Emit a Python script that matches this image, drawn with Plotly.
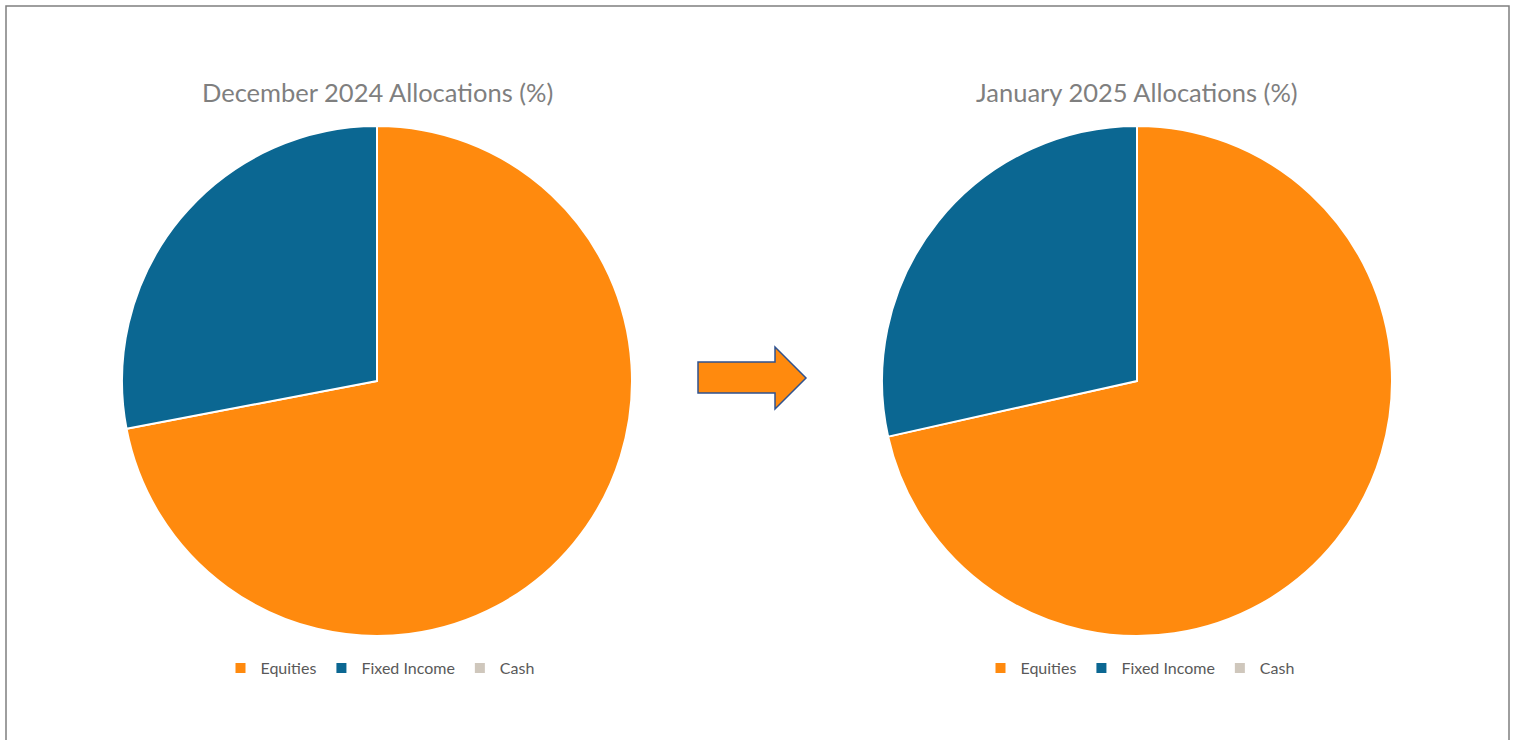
import plotly.graph_objects as go

labels = ["Equities", "Fixed Income", "Cash"]
dec_2024 = [72.0, 28.0, 0.0]
jan_2025 = [71.5, 28.5, 0.0]
colors = ["#FF8A0E", "#0B6792", "#CFC7BC"]
titles = ["December 2024 Allocations (%)", "January 2025 Allocations (%)"]

W, H = 1513, 740

def px(x, y):
    return x / W, 1 - y / H

fig = go.Figure()

# second pie uses distinct label keys (trailing space) so it gets its own legend entries
pies = [(dec_2024, 377, "legend", labels),
        (jan_2025, 1137, "legend2", [l + "\u200b" for l in labels])]
for vals, cx, lg, labs in pies:
    r = 255
    cy = 381
    x0, y1 = px(cx - r, cy - r)
    x1, y0 = px(cx + r, cy + r)
    fig.add_trace(go.Pie(
        labels=labs, values=vals, sort=False, direction="clockwise", rotation=0,
        marker=dict(colors=colors, line=dict(color="white", width=2)),
        textinfo="none", hoverinfo="label+value",
        domain=dict(x=[x0, x1], y=[y0, y1]), legend=lg,
    ))

for t, cx in zip(titles, [377, 1137]):
    fig.add_annotation(text=t, x=cx / W, y=1 - 92 / H, xref="paper", yref="paper",
                       showarrow=False, xanchor="center", yanchor="middle",
                       font=dict(size=25.5, color="#7F7F7F", family="Lato"))

legend_style = dict(orientation="h", xanchor="center", yanchor="middle",
                    font=dict(size=16, color="#595959", family="Lato"),
                    bgcolor="rgba(0,0,0,0)", itemclick=False, itemdoubleclick=False,
                    traceorder="normal", itemwidth=30)

# arrow shape
pts = [(698, 362), (775, 362), (775, 347), (806, 378), (775, 409), (775, 393), (698, 393)]
path = "M " + " L ".join(f"{px(x, y)[0]:.5f},{px(x, y)[1]:.5f}" for x, y in pts) + " Z"

fig.update_layout(
    width=W, height=H,
    margin=dict(l=0, r=0, t=0, b=0),
    paper_bgcolor="white", plot_bgcolor="white",
    legend=dict(x=380 / W, y=1 - 668 / H, **legend_style),
    legend2=dict(x=1140 / W, y=1 - 668 / H, **legend_style),
    shapes=[
        dict(type="path", path=path, xref="paper", yref="paper",
             fillcolor="#FF8A0E", line=dict(color="#2F528F", width=1.5)),
        dict(type="rect", xref="paper", yref="paper",
             x0=6 / W, x1=1509 / W, y0=-0.05, y1=1 - 6 / H,
             line=dict(color="#7F7F7F", width=1.5), fillcolor="rgba(0,0,0,0)"),
    ],
)

fig.write_html("out.html")
